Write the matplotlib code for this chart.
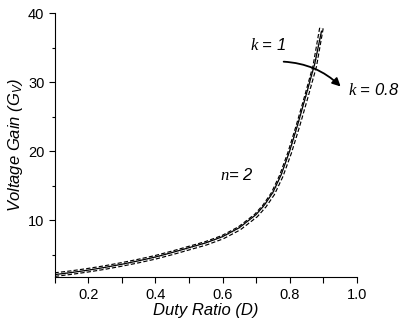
import matplotlib
matplotlib.use('Agg')
import matplotlib.pyplot as plt

plt.rcParams['font.family'] = 'Liberation Sans'
# serif italic for the k / n symbols, sans for the G_V subscript
plt.rcParams['mathtext.fontset'] = 'custom'
plt.rcParams['mathtext.it'] = 'Liberation Serif:italic'
plt.rcParams['mathtext.rm'] = 'Liberation Sans:italic'
plt.rcParams['lines.scale_dashes'] = False

# voltage gain vs duty ratio, n = 2
duty = [0.10, 0.15, 0.20, 0.25, 0.30, 0.35, 0.40, 0.45, 0.50, 0.55, 0.60,
        0.65, 0.70, 0.725, 0.75, 0.775, 0.80, 0.825, 0.85, 0.875, 0.895]
gain_k1 = [2.10, 2.40, 2.75, 3.15, 3.60, 4.10, 4.65, 5.30, 6.00, 6.70, 7.60,
           8.90, 10.8, 12.2, 14.0, 16.6, 20.0, 24.0, 28.3, 32.7, 37.4]
gain_k08 = [2.10, 2.39, 2.74, 3.13, 3.58, 4.07, 4.61, 5.25, 5.94, 6.63, 7.52,
            8.80, 10.68, 12.05, 13.82, 16.4, 19.75, 23.7, 27.95, 32.35, 37.9]

fig = plt.figure(figsize=(3.99, 3.29), dpi=100)
ax = fig.add_axes([0.1373, 0.157, 0.7567, 0.8026])

# k = 0.8 : hollow dashed line
ax.plot(duty, gain_k08, color='black', lw=3.4, ls=(0, (3.0, 1.6)))
ax.plot(duty, gain_k08, color='white', lw=1.7, ls=(0, (3.0, 1.6)))
# k = 1 : solid line
ax.plot(duty, gain_k1, color='black', lw=0.9)

ax.set_xlim(0.1, 1.0)
ax.set_ylim(1.7, 40)
ax.set_xticks([0.1, 0.2, 0.3, 0.4, 0.5, 0.6, 0.7, 0.8, 0.9, 1.0])
ax.set_xticklabels(['', '0.2', '', '0.4', '', '0.6', '', '0.8', '', '1.0'])
ax.set_yticks([10, 20, 30, 40])
ax.set_yticks([5, 15, 25, 35], minor=True)
ax.tick_params(axis='both', which='major', length=4, width=0.8, labelsize=10.5, direction='out')
ax.tick_params(axis='y', which='minor', length=2.5, width=0.8)
ax.spines['top'].set_visible(False)
ax.spines['right'].set_visible(False)

ax.set_xlabel('Duty Ratio (D)', fontsize=12, style='italic', labelpad=1)
ax.set_ylabel(r'Voltage Gain (G$_\mathrm{V}$)', fontsize=12, style='italic', labelpad=2)

ax.text(0.736, 35.4, r'$k$ = 1', fontsize=12, style='italic', ha='center', va='center')
ax.text(0.974, 28.85, r'$k$ = 0.8', fontsize=12, style='italic', ha='left', va='center',
        clip_on=False)
ax.text(0.593, 16.5, r'$n$= 2', fontsize=12, style='italic', ha='left', va='center')
ax.annotate('', xy=(0.958, 29.1), xytext=(0.774, 33.0),
            arrowprops=dict(arrowstyle='-|>', color='black', lw=1.3,
                            connectionstyle='arc3,rad=-0.2', mutation_scale=12))

fig.savefig('out.png', dpi=100)
